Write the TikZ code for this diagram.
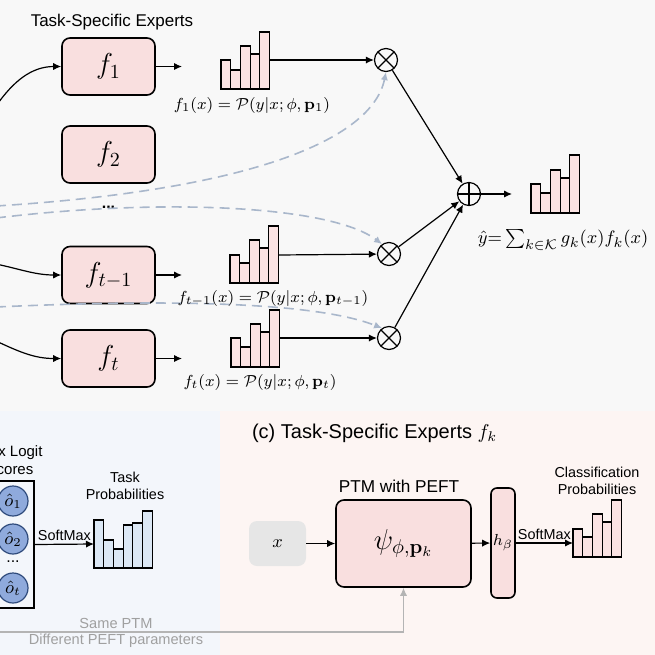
\documentclass[tikz,border=0pt]{standalone}
\usepackage{amsmath,amssymb}
\usepackage[no-math]{fontspec}
\setmainfont{Liberation Sans}
\usetikzlibrary{arrows.meta,positioning,calc}

\definecolor{topbg}{HTML}{F8F8F8}
\definecolor{gatebg}{HTML}{F3F6FB}
\definecolor{expbg}{HTML}{FDF5F3}
\definecolor{expfill}{HTML}{F9DFDF}
\definecolor{barpink}{HTML}{FBE3E3}
\definecolor{barblue}{HTML}{DCE8F5}
\definecolor{logitfill}{HTML}{8FAADC}
\definecolor{logitdraw}{HTML}{2F4B7C}
\definecolor{dashcol}{HTML}{A9B7CB}
\definecolor{grayline}{HTML}{B4B4B4}
\definecolor{graytext}{HTML}{A0A0A0}
\definecolor{xfill}{HTML}{E6E6E6}

% small bar chart: x0, base, fill, heights
\newcommand{\probbars}[4]{%
  \foreach \h [count=\i from 0] in {#4}
    \draw[bar,fill=#3] ({#1+\i*9.7},#2) rectangle ++(9.7,-\h);
}

\begin{document}
\begin{tikzpicture}[x=0.5pt,y=-0.5pt,
  expert/.style={draw,thick,fill=expfill,rounded corners=4pt,minimum width=46.5pt,minimum height=28.5pt,inner sep=0pt,font=\fontsize{14.4}{16}\selectfont},
  arr/.style={-{Latex[length=4pt,width=3.6pt]},semithick},
  guide/.style={-{Latex[length=4pt,width=3.6pt]},dashcol,line width=0.8pt,dash pattern=on 5pt off 3pt},
  grayarr/.style={-{Latex[length=4pt,width=3.6pt]},grayline,line width=0.6pt},
  op/.style={circle,draw,semithick,minimum size=11.5pt,inner sep=0pt},
  mul/.style={op,path picture={\draw[semithick] (path picture bounding box.north west) -- (path picture bounding box.south east)
      (path picture bounding box.north east) -- (path picture bounding box.south west);}},
  add/.style={op,path picture={\draw[semithick] (path picture bounding box.north) -- (path picture bounding box.south)
      (path picture bounding box.west) -- (path picture bounding box.east);}},
  bar/.style={draw,line width=0.6pt},
  lbl/.style={font=\fontsize{8.5}{10}\selectfont,inner sep=0pt},
  note/.style={font=\fontsize{7.2}{8.6}\selectfont,align=center,inner sep=0pt},
  logit/.style={circle,draw=logitdraw,semithick,fill=logitfill,minimum size=15pt,inner sep=0pt,font=\fontsize{9}{10}\selectfont}
]
\useasboundingbox (0,0) rectangle (655,655);
\clip (0,0) rectangle (655,655);

% panels
\fill[topbg] (0,0) rectangle (655,411);
\fill[gatebg] (0,411) rectangle (220,655);
\fill[expbg] (220,411) rectangle (655,655);

% experts
\node[font=\fontsize{8.5}{10}\selectfont] (ttl) at (112,22) {Task-Specific Experts};
\node[expert] (f1)  at (108.5,66.5)  {$f_1$};
\node[expert] (f2)  at (108.5,154.5) {$f_2$};
\node[font=\bfseries\fontsize{8}{10}\selectfont] (fdots) at (108.5,207) {...};
\node[expert] (ftm) at (108.5,275)   {$f_{t-1}$};
\node[expert] (ft)  at (108.5,358.5) {$f_t$};

\coordinate (r1) at (-4,106);
\coordinate (r2) at (-4,264);
\coordinate (r3) at (-4,341);
\draw[arr] (r1) to[out=55,in=180] (f1.west);
\draw[arr] (r2) to[out=-12,in=180] (ftm.west);
\draw[arr] (r3) to[out=-25,in=180] (ft.west);

\coordinate (e1) at (182,66.5);
\coordinate (e2) at (182,275);
\coordinate (e3) at (182,358.5);
\draw[arr] (f1.east) -- (e1);
\draw[arr] (ftm.east) -- (e2);
\draw[arr] (ft.east) -- (e3);

% gating weights and mixing
\node[mul] (m1) at (386,60) {};
\node[mul] (m2) at (389,254) {};
\node[mul] (m3) at (389,338) {};
\node[add] (sum) at (469,194) {};

\coordinate (g1) at (-4,206);
\coordinate (g2) at (-4,218);
\coordinate (g3) at (-4,307);
\draw[guide] (g1) .. controls (250,190) and (372,140) .. (m1.south);
\draw[guide] (g2) .. controls (160,198) and (330,205) .. (m2.125);
\draw[guide] (g3) .. controls (150,300) and (310,300) .. (m3.125);

\probbars{221}{89}{barpink}{29,19,43,35,57}
\probbars{230}{283}{barpink}{28,20,43,35,57}
\probbars{231}{367}{barpink}{29,20,43,35,57}
\coordinate (c1) at (269.5,60);
\coordinate (c2) at (278.5,255);
\coordinate (c3) at (279.5,338);
\draw[arr] (c1) -- (m1);
\draw[arr] (c2) -- (m2);
\draw[arr] (c3) -- (m3);

\node[lbl] (l1) at (252,105) {$f_1(x) = \mathcal{P}(y|x;\phi,\mathbf{p}_1)$};
\node[lbl] (l2) at (273,298) {$f_{t-1}(x) = \mathcal{P}(y|x;\phi,\mathbf{p}_{t-1})$};
\node[lbl] (l3) at (260,382) {$f_t(x) = \mathcal{P}(y|x;\phi,\mathbf{p}_t)$};

\draw[arr] (m1) -- (sum);
\draw[arr] (m2) -- (sum);
\draw[arr] (m3) -- (sum);
\coordinate (yo) at (512,194);
\draw[arr] (sum) -- (yo);
\probbars{531}{213}{barpink}{29,20,43,35,58}
\node[lbl,font=\fontsize{9.5}{11}\selectfont] (yhat) at (563,240) {$\hat{y}{=}\sum_{k\in\mathcal{K}} g_k(x)f_k(x)$};

% router scores
\node[note,font=\fontsize{7.5}{9}\selectfont] (lgt) at (10,460.5) {Max Logit\\Scores};
\node[draw,thick,minimum width=27pt,minimum height=63.5pt] (lbox) at (7,544.5) {};
\node[logit] (oh1) at (13,501) {$\hat{o}_1$};
\node[logit] (oh2) at (13,539) {$\hat{o}_2$};
\node[font=\fontsize{8}{10}\selectfont] (odots) at (13,562) {...};
\node[logit] (oht) at (13,588) {$\hat{o}_t$};
\coordinate (tp) at (94,544);
\draw[arr] (lbox.east) -- node[note,above=1.5pt] {SoftMax} (tp);
\probbars{94}{568}{barblue}{48,28,19,43,45,57}
\node[note] (tplbl) at (125,486) {Task\\Probabilities};

\coordinate (same) at (-4,632);
\node[note,text=graytext,font=\fontsize{7.3}{9}\selectfont] (samelbl) at (116,623) {Same PTM};
\node[note,text=graytext,font=\fontsize{7.3}{9}\selectfont] (difflbl) at (116,641) {Different PEFT parameters};

% (c) expert internals
\node[anchor=west,font=\fontsize{10}{12}\selectfont] (ctitle) at (245,433) {(c) Task-Specific Experts $f_k$};
\node[fill=xfill,rounded corners=4pt,minimum width=28.5pt,minimum height=22.5pt,font=\fontsize{9}{10}\selectfont] (xin) at (277.5,543.5) {$x$};
\node[expert,minimum width=67.5pt,minimum height=43.5pt,font=\fontsize{14.4}{16}\selectfont] (ptm) at (403.5,543.5) {$\psi_{\phi,\mathbf{p}_k}$};
\node[font=\fontsize{8.6}{10}\selectfont] (ptmlbl) at (399,486) {PTM with PEFT};
\node[expert,minimum width=12pt,minimum height=55pt,rounded corners=3pt,font=\fontsize{8.5}{10}\selectfont] (head) at (503,543) {$h_\beta$};
\draw[arr] (xin) -- (ptm);
\draw[arr] (ptm) -- (head);
\coordinate (cp) at (573,543);
\draw[arr] (head.east) -- node[note,above=1.5pt] {SoftMax} (cp);
\probbars{573}{557}{barpink}{28,20,43,35,57}
\node[note] (cplbl) at (597,481) {Classification\\Probabilities};

\draw[grayarr] (same) -| (ptm.south);
\end{tikzpicture}
\end{document}
